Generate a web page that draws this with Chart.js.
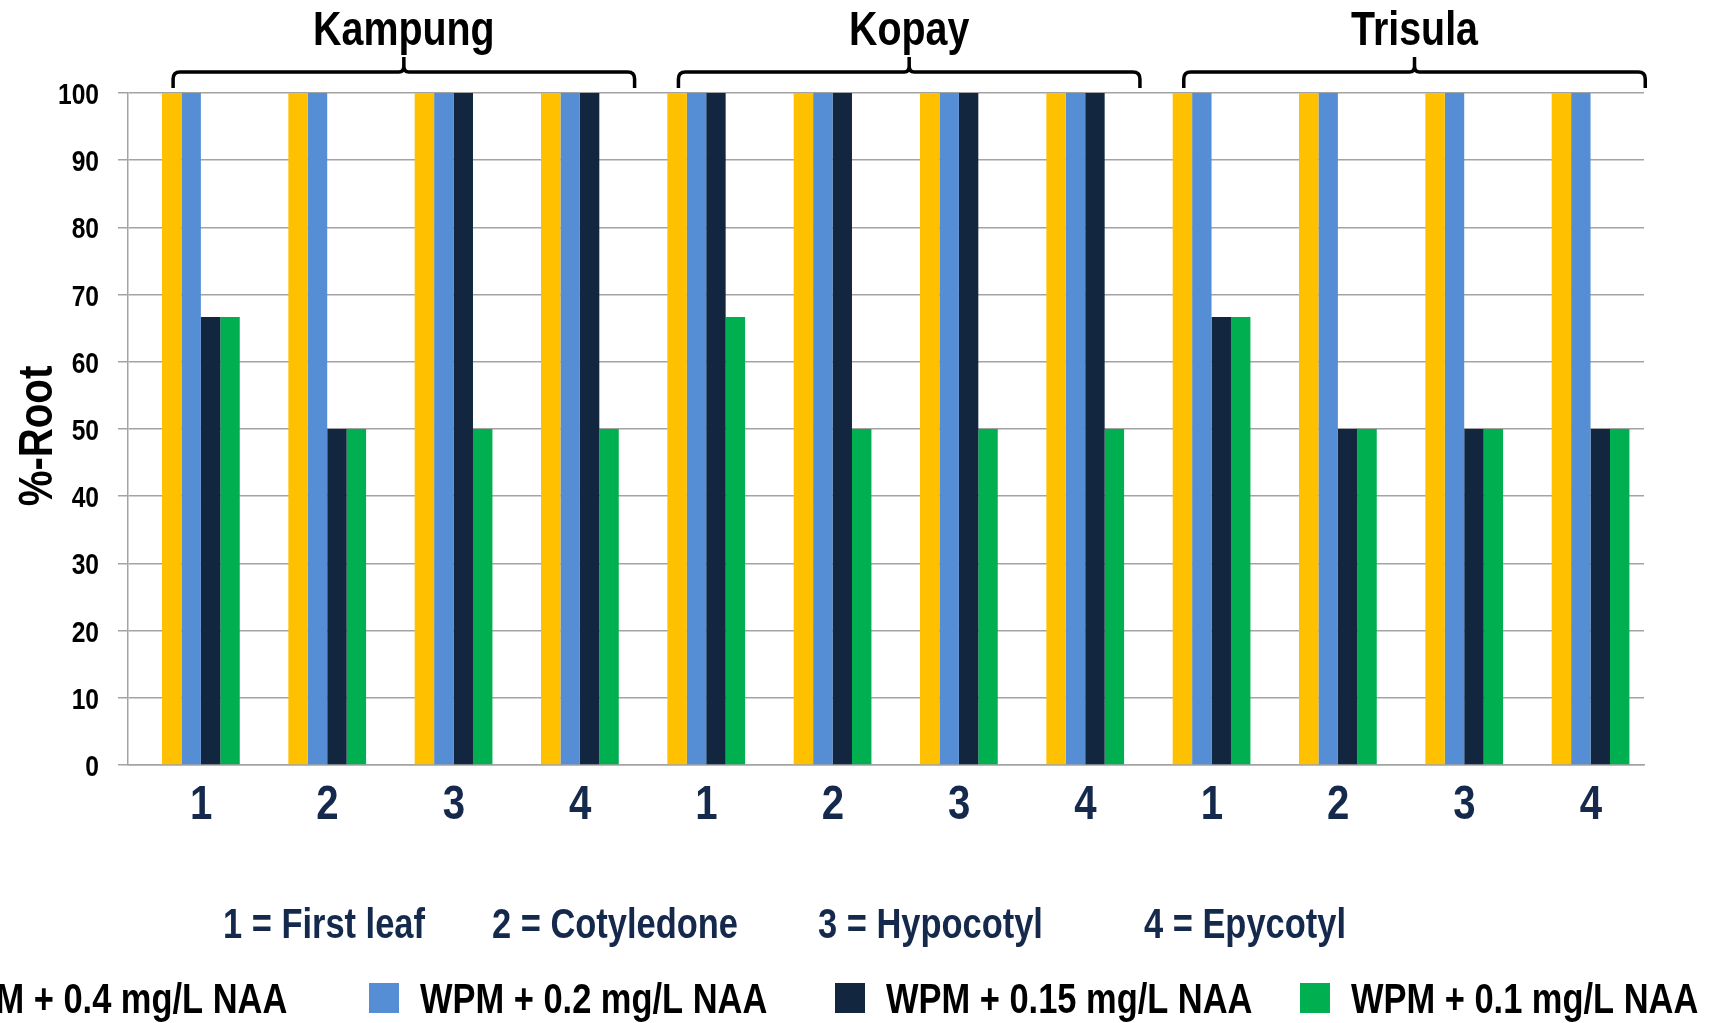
<!DOCTYPE html>
<html>
<head>
<meta charset="utf-8">
<title>%-Root by explant and NAA level</title>
<script src="https://cdn.jsdelivr.net/npm/chart.js@4.4.1/dist/chart.umd.min.js"></script>
<style>
  html, body { margin: 0; padding: 0; background: #ffffff; overflow: hidden; }
  #wrap { width: 1715px; height: 1023px; }
</style>
</head>
<body>
<div id="wrap"><canvas id="chart" width="1715" height="1023"></canvas></div>
<script>
// Varieties, each spanning four explant types
const varieties = ['Kampung', 'Kopay', 'Trisula'];
const explantCodes = ['1', '2', '3', '4'];
const explantKey = ['1 = First leaf', '2 = Cotyledone', '3 = Hypocotyl', '4 = Epycotyl'];

// One x category per variety/explant pair
const categories = varieties.flatMap(() => explantCodes);

// Rooting percentage per NAA level (Kampung 1-4, Kopay 1-4, Trisula 1-4)
const naa04 = [100, 100, 100, 100, 100, 100, 100, 100, 100, 100, 100, 100];
const naa02 = [100, 100, 100, 100, 100, 100, 100, 100, 100, 100, 100, 100];
const naa015 = [66.67, 50, 100, 100, 100, 100, 100, 100, 66.67, 50, 50, 50];
const naa01 = [66.67, 50, 50, 50, 66.67, 50, 50, 50, 66.67, 50, 50, 50];
// Empty leading series that keeps the first slot of each category free
const spacer = categories.map(() => null);

const seriesLabels = ['WPM + 0.4 mg/L NAA', 'WPM + 0.2 mg/L NAA', 'WPM + 0.15 mg/L NAA', 'WPM + 0.1 mg/L NAA'];
const seriesColors = ['#FFC000', '#558ED5', '#12263F', '#00B050'];

const yTicks = [0, 10, 20, 30, 40, 50, 60, 70, 80, 90, 100];
const yTitle = '%-Root';

const FONT = "'Liberation Sans', Arial, sans-serif";
const NARROW = 0.82;           // horizontal squeeze giving a narrow bold face
const NAVY_TEXT = '#14294B';
const GRID = '#a3a3a3';

// Draws bold text squeezed horizontally around its anchor point
function narrowText(ctx, text, x, y, size, color, align, rotation) {
  ctx.save();
  ctx.translate(x, y);
  if (rotation) ctx.rotate(rotation);
  ctx.scale(NARROW, 1);
  ctx.font = 'bold ' + size + 'px ' + FONT;
  ctx.fillStyle = color;
  ctx.textAlign = align;
  ctx.textBaseline = 'alphabetic';
  ctx.fillText(text, 0, 0);
  ctx.restore();
}

// Axis labels, brackets, variety names, explant key and legend
const decorations = {
  id: 'decorations',
  afterDraw(chart) {
    const ctx = chart.ctx;
    const x = chart.scales.x;
    const y = chart.scales.y;
    const cw = (x.right - x.left) / categories.length;

    // y tick labels, right-aligned left of the tick marks
    yTicks.forEach(v => {
      narrowText(ctx, String(v), x.left - 29, y.getPixelForValue(v) + 11, 30, '#000000', 'right');
    });

    // y title, rotated
    narrowText(ctx, yTitle, 52, (y.top + y.bottom) / 2 + 7, 49, '#000000', 'center', -Math.PI / 2);

    // x category labels, centred on the visible bars
    categories.forEach((c, i) => {
      narrowText(ctx, c, x.getPixelForValue(i) + 10, y.bottom + 54, 49, NAVY_TEXT, 'center');
    });

    // variety brackets with their names
    ctx.save();
    varieties.forEach((name, g) => {
      const first = g * explantCodes.length;
      const last = first + explantCodes.length - 1;
      const L = x.getPixelForValue(first) - cw * 0.143;
      const R = x.getPixelForValue(last) + cw * 0.51;
      const C = (L + R) / 2;
      const yLine = 72, yEnd = 88, yTip = 57, r = 7;
      ctx.strokeStyle = '#000000';
      ctx.lineWidth = 3.5;
      ctx.lineJoin = 'round';
      ctx.beginPath();
      ctx.moveTo(L, yEnd);
      ctx.lineTo(L, yLine + r);
      ctx.quadraticCurveTo(L, yLine, L + r, yLine);
      ctx.lineTo(C - 5, yLine);
      ctx.quadraticCurveTo(C, yLine, C, yLine - 6);
      ctx.lineTo(C, yTip);
      ctx.moveTo(C, yLine - 6);
      ctx.quadraticCurveTo(C, yLine, C + 5, yLine);
      ctx.lineTo(R - r, yLine);
      ctx.quadraticCurveTo(R, yLine, R, yLine + r);
      ctx.lineTo(R, yEnd);
      ctx.stroke();
      narrowText(ctx, name, C, 45, 48, '#000000', 'center');
    });
    ctx.restore();

    // explant key
    const keyX = [223, 492, 818, 1144];
    explantKey.forEach((t, i) => narrowText(ctx, t, keyX[i], 938, 42, NAVY_TEXT, 'left'));

    // legend row; the first item runs past the left edge
    const boxX = [-111, 369, 835, 1300];
    const box = 30, boxTop = 983, baseLine = 1013;
    chart.data.datasets.forEach((ds) => {
      if (!ds.label) return;
      const k = seriesLabels.indexOf(ds.label);
      const bx = boxX[k];
      ctx.fillStyle = ds.backgroundColor;
      ctx.fillRect(bx, boxTop, box, box);
      narrowText(ctx, ds.label, bx + 51, baseLine, 42, '#000000', 'left');
    });
  }
};

const datasets = [
  { label: '', data: spacer, backgroundColor: 'rgba(0,0,0,0)' },
  { label: seriesLabels[0], data: naa04, backgroundColor: seriesColors[0] },
  { label: seriesLabels[1], data: naa02, backgroundColor: seriesColors[1] },
  { label: seriesLabels[2], data: naa015, backgroundColor: seriesColors[2] },
  { label: seriesLabels[3], data: naa01, backgroundColor: seriesColors[3] }
].map(d => Object.assign(d, { categoryPercentage: 5 / 6.5, barPercentage: 1.0, borderWidth: 0 }));

new Chart(document.getElementById('chart'), {
  type: 'bar',
  data: { labels: categories, datasets },
  options: {
    responsive: false,
    animation: false,
    devicePixelRatio: 1,
    layout: { padding: { left: 0, right: 71, top: 93, bottom: 0 } },
    plugins: {
      legend: { display: false },
      tooltip: { enabled: false },
      title: { display: false }
    },
    scales: {
      x: {
        afterFit(s) { s.height = 258; },
        grid: { display: false, drawTicks: false },
        border: { display: true, color: GRID, width: 1.5 },
        ticks: { display: false, autoSkip: false }
      },
      y: {
        min: 0,
        max: 100,
        afterFit(s) { s.width = 128; },
        afterBuildTicks(s) { s.ticks = yTicks.map(v => ({ value: v })); },
        grid: { color: GRID, lineWidth: 1.5, drawTicks: true, tickLength: 10 },
        border: { display: true, color: GRID, width: 1.5 },
        ticks: { display: false },
        title: { display: false }
      }
    }
  },
  plugins: [decorations]
});
</script>
</body>
</html>
